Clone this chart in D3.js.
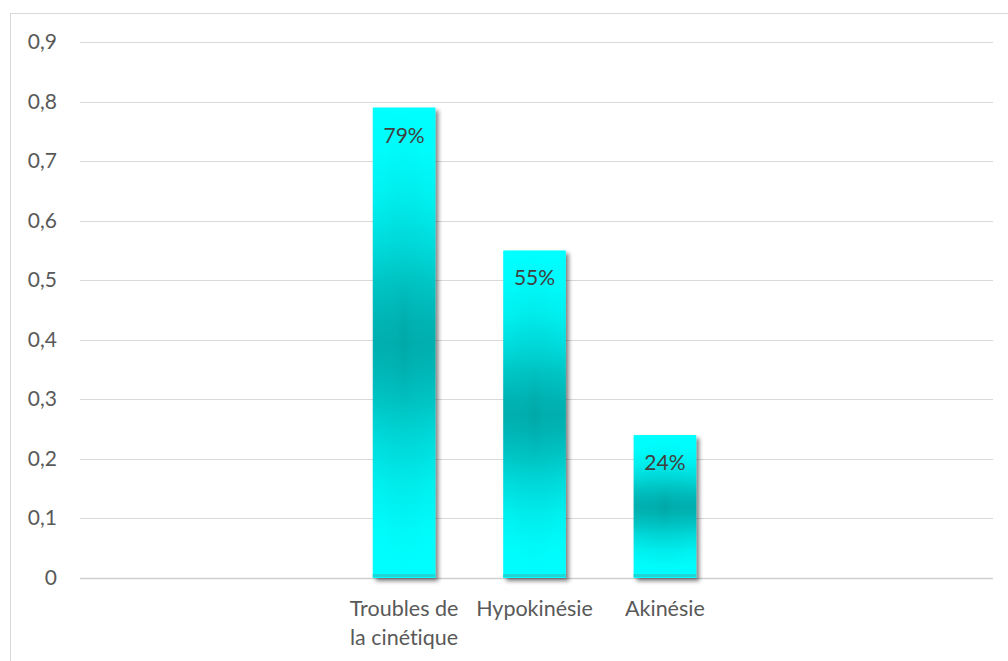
<!DOCTYPE html>
<html>
<head>
<meta charset="utf-8">
<script src="https://cdn.jsdelivr.net/npm/d3@7"></script>
<style>
  html, body { margin: 0; padding: 0; background: #fff; }
  svg { display: block; }
  text { font-family: Lato, "Open Sans", sans-serif; font-variant-ligatures: none; font-feature-settings: "liga" 0, "dlig" 0; }
</style>
</head>
<body>
<svg id="chart" width="1008" height="661"></svg>
<script>
// Category slots along the x axis (blank slots keep their spacing)
const categories = ["", "", "Troubles de\nla cinétique", "Hypokinésie", "Akinésie", "", ""];
// Values per category (null = no bar)
const values = [null, null, 0.79, 0.55, 0.24, null, null];
// Label shown inside each bar
const valueLabels = ["", "", "79%", "55%", "24%", "", ""];
// Y axis ticks
const yTicks = [0, 0.1, 0.2, 0.3, 0.4, 0.5, 0.6, 0.7, 0.8, 0.9];
const yTickLabels = ["0", "0,1", "0,2", "0,3", "0,4", "0,5", "0,6", "0,7", "0,8", "0,9"];

const svg = d3.select("#chart");
const W = 1008, H = 661;
const plot = { left: 80, right: 993, top: 42, bottom: 578 };

// chart frame
svg.append("rect")
  .attr("x", 10.5).attr("y", 13.5)
  .attr("width", W - 10).attr("height", H)
  .attr("fill", "#fff").attr("stroke", "#d9d9d9").attr("stroke-width", 1);

const x = d3.scaleBand()
  .domain(d3.range(categories.length))
  .range([plot.left - 2, plot.right - 2])
  .paddingInner(0.52).paddingOuter(0.26);

const y = d3.scaleLinear()
  .domain([0, 0.9])
  .range([plot.bottom, plot.top]);

const defs = svg.append("defs");

// vertical gradient: cyan at both ends, teal through the middle
const lg = defs.append("linearGradient")
  .attr("id", "barGrad").attr("x1", 0).attr("y1", 0).attr("x2", 0).attr("y2", 1);
[
  [0, "#00ffff"], [0.1, "#00fbfb"], [0.2, "#00efef"], [0.3, "#00dada"],
  [0.38, "#00c4c4"], [0.45, "#00b5b5"], [0.5, "#03afaf"], [0.55, "#00b5b5"],
  [0.62, "#00c4c4"], [0.7, "#00dada"], [0.8, "#00efef"], [0.9, "#00fbfb"], [1, "#00ffff"]
].forEach(([o, c]) => lg.append("stop").attr("offset", o).attr("stop-color", c));

// slightly darker core in the centre of each bar
const rg = defs.append("radialGradient")
  .attr("id", "barCore").attr("cx", 0.5).attr("cy", 0.5).attr("r", 0.5);
rg.append("stop").attr("offset", 0).attr("stop-color", "#009797").attr("stop-opacity", 0.3);
rg.append("stop").attr("offset", 0.3).attr("stop-color", "#00a0a0").attr("stop-opacity", 0.1);
rg.append("stop").attr("offset", 1).attr("stop-color", "#00a0a0").attr("stop-opacity", 0);

// soft drop shadow to the lower right
const f = defs.append("filter").attr("id", "shadow")
  .attr("x", "-20%").attr("y", "-5%").attr("width", "150%").attr("height", "115%");
f.append("feGaussianBlur").attr("in", "SourceAlpha").attr("stdDeviation", 2).attr("result", "b");
f.append("feOffset").attr("in", "b").attr("dx", 2.5).attr("dy", 3).attr("result", "o");
f.append("feComponentTransfer").attr("in", "o").attr("result", "s")
  .append("feFuncA").attr("type", "linear").attr("slope", 0.5);
const m = f.append("feMerge");
m.append("feMergeNode").attr("in", "s");
m.append("feMergeNode").attr("in", "SourceGraphic");

// gridlines
svg.append("g").selectAll("line")
  .data(yTicks)
  .join("line")
  .attr("x1", plot.left).attr("x2", plot.right)
  .attr("y1", d => Math.round(y(d)) + 0.5).attr("y2", d => Math.round(y(d)) + 0.5)
  .attr("stroke", d => d === 0 ? "#d0d0d0" : "#d9d9d9")
  .attr("stroke-width", d => d === 0 ? 1.5 : 1);

// y tick labels
svg.append("g").selectAll("text")
  .data(yTicks)
  .join("text")
  .attr("x", 57).attr("y", d => y(d) + 7)
  .attr("text-anchor", "end")
  .attr("font-size", 21).attr("fill", "#595959")
  .text((d, i) => yTickLabels[i]);

// bars
const barData = d3.range(categories.length).filter(i => values[i] != null);
const bars = svg.append("g").selectAll("g.bar")
  .data(barData)
  .join("g").attr("class", "bar");

bars.append("rect")
  .attr("x", i => x(i)).attr("y", i => y(values[i]))
  .attr("width", x.bandwidth())
  .attr("height", i => y(0) - y(values[i]))
  .attr("fill", "url(#barGrad)")
  .attr("filter", "url(#shadow)");

bars.append("rect")
  .attr("x", i => x(i)).attr("y", i => y(values[i]))
  .attr("width", x.bandwidth())
  .attr("height", i => y(0) - y(values[i]))
  .attr("fill", "url(#barCore)");

// thin darker band along each bar's base
bars.append("rect")
  .attr("x", i => x(i)).attr("y", y(0) - 4)
  .attr("width", x.bandwidth()).attr("height", 3)
  .attr("fill", "#1fd6d6");

// value labels inside bars
bars.append("text")
  .attr("x", i => x(i) + x.bandwidth() / 2)
  .attr("y", i => y(values[i]) + 35)
  .attr("text-anchor", "middle")
  .attr("font-size", 21).attr("fill", "#404040")
  .text(i => valueLabels[i]);

// category labels (one tspan per line)
svg.append("g").selectAll("text")
  .data(d3.range(categories.length).filter(i => categories[i]))
  .join("text")
  .attr("text-anchor", "middle")
  .attr("font-size", 21.5).attr("fill", "#595959")
  .each(function (i) {
    const cx = x(i) + x.bandwidth() / 2;
    d3.select(this).selectAll("tspan")
      .data(categories[i].split("\n"))
      .join("tspan")
      .attr("x", cx)
      .attr("y", (l, k) => 616 + k * 29)
      .text(l => l);
  });
</script>
</body>
</html>
